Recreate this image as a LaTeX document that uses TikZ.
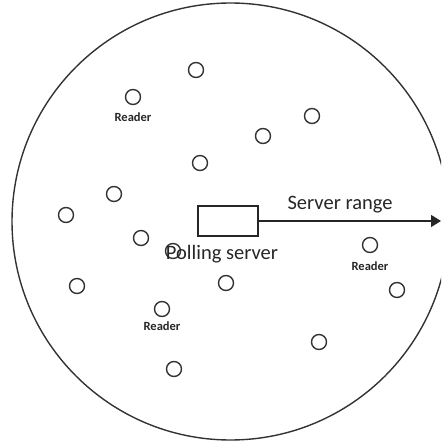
\documentclass[tikz,border=0pt]{standalone}
\usepackage{fontspec}
\setmainfont{Carlito}
\usetikzlibrary{arrows.meta}
\tikzset{
  reader/.style={circle, draw=black!80, line width=1.4pt, minimum size=15pt, inner sep=0pt},
  readerlabel/.style={font=\fontsize{12.5}{14}\selectfont\bfseries, text=black!85, inner sep=0pt},
  bigtext/.style={font=\fontsize{20.5}{24}\selectfont, text=black!85, inner sep=0pt},
  server/.style={draw=black!85, line width=1.2pt, minimum width=60pt, minimum height=30pt, inner sep=0pt},
}
\begin{document}
\begin{tikzpicture}[x=1pt, y=-1pt]
  \useasboundingbox (0,0) rectangle (441,443);
  \clip (0,0) rectangle (441,443);
  % coverage area of the polling server
  \draw[black!80, line width=1.4pt] (230.5,221.5) circle (218.5pt);

  % readers scattered over the area
  \node[reader] (r1)  at (196,70)  {};
  \node[reader] (r2)  at (133,97)  {};
  \node[reader] (r3)  at (312,116) {};
  \node[reader] (r4)  at (263,136) {};
  \node[reader] (r5)  at (200,163) {};
  \node[reader] (r6)  at (114,194) {};
  \node[reader] (r7)  at (66,215)  {};
  \node[reader] (r8)  at (141,238) {};
  \node[reader] (r9)  at (173,251) {};
  \node[reader] (r10) at (226,283) {};
  \node[reader] (r11) at (77,286)  {};
  \node[reader] (r12) at (370,245) {};
  \node[reader] (r13) at (397,290) {};
  \node[reader] (r14) at (162,309) {};
  \node[reader] (r15) at (319,342) {};
  \node[reader] (r16) at (174,369) {};

  \node[readerlabel] (l2)  at (133,117) {Reader};
  \node[readerlabel] (l12) at (370,266) {Reader};
  \node[readerlabel] (l14) at (162,326) {Reader};

  % polling server and its range
  \node[server] (srv) at (228,221) {};
  \node[bigtext] (srvlabel) at (222,254) {Polling server};
  \coordinate (edge) at (441,221);
  \draw[black!85, line width=1.2pt, -{Triangle[length=10pt, width=12pt]}] (srv.east) -- (edge);
  \node[bigtext] (range) at (340,205) {Server range};
\end{tikzpicture}
\end{document}
